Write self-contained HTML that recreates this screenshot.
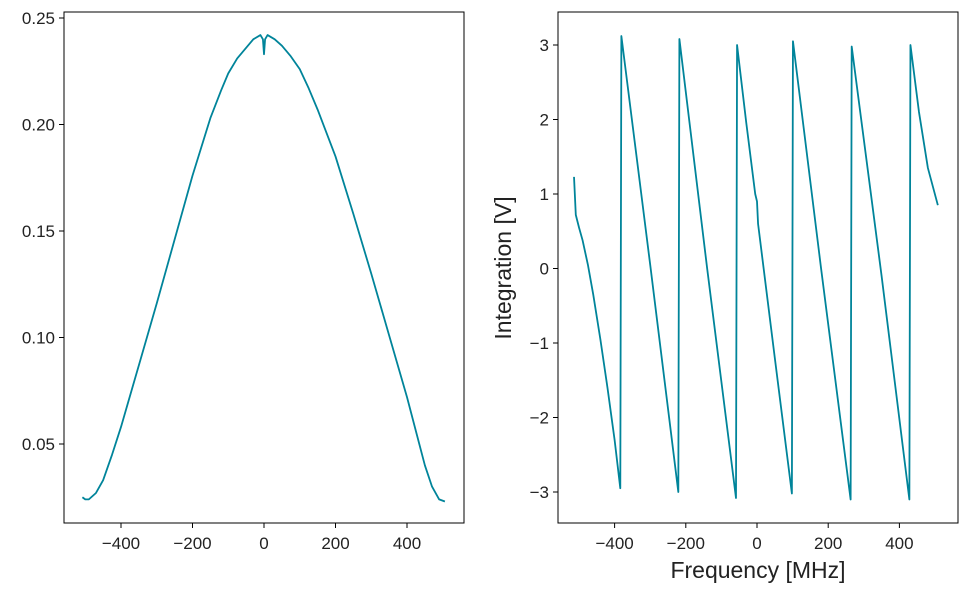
<!DOCTYPE html>
<html><head><meta charset="utf-8"><style>
html,body{margin:0;padding:0;background:#fff;}
svg text{font-family:"Liberation Sans",sans-serif;fill:#222;}
</style></head><body>
<svg id="c" width="966" height="592" xmlns="http://www.w3.org/2000/svg"></svg>
<script>
const leftX=[-508,-500,-490,-470,-450,-425,-400,-350,-300,-250,-200,-150,-120,-100,-75,-50,-30,-10,-3,0,3,10,30,50,75,100,125,150,200,250,300,350,400,425,450,470,490,506];
const leftY=[0.025,0.024,0.024,0.027,0.033,0.045,0.058,0.087,0.116,0.146,0.176,0.203,0.216,0.224,0.231,0.236,0.240,0.242,0.240,0.233,0.240,0.242,0.240,0.237,0.232,0.226,0.217,0.207,0.185,0.158,0.130,0.101,0.072,0.056,0.040,0.030,0.024,0.023];
const rightX=[-514,-509,-500,-490,-475,-460,-440,-420,-400,-384,-381,-300,-221,-218,-140,-59,-56,-30,-5,0,3,50,98,101,180,263,266,350,428,431,455,480,508];
const rightY=[1.23,0.72,0.55,0.38,0.05,-0.35,-0.95,-1.6,-2.3,-2.95,3.12,0.05,-3.0,3.08,0.0,-3.08,3.0,1.95,1.0,0.9,0.6,-1.2,-3.02,3.05,0.0,-3.1,2.98,-0.1,-3.1,3.0,2.1,1.35,0.85];
const xTicks=[-400,-200,0,200,400];
const leftYTicks=[0.05,0.10,0.15,0.20,0.25];
const rightYTicks=[-3,-2,-1,0,1,2,3];
const svg=document.getElementById('c');
const NS='http://www.w3.org/2000/svg';
function mk(t,a){const e=document.createElementNS(NS,t);for(const k in a)e.setAttribute(k,a[k]);svg.appendChild(e);return e;}
const LX=v=>264+v*0.3575, LY=v=>444-(v-0.05)*2130;
const RX=v=>757+v*0.356, RY=v=>268.5-v*74.5;
function panel(x0,y0,w,h,fx,fy,xs,ys,yt,fmt,name){
  const r=mk('rect',{x:x0,y:y0,width:w,height:h,fill:'none',stroke:'#000','stroke-width':1});
  
  
  xTicks.forEach(t=>{const x=fx(t);mk('line',{x1:x,x2:x,y1:y0+h,y2:y0+h+5,stroke:'#000'});
    const tx=mk('text',{x:x,y:y0+h+26,'text-anchor':'middle','font-size':17});tx.textContent=(t<0?'\u2212'+(-t):t);
    
    });
  yt.forEach(t=>{const y=fy(t);mk('line',{x1:x0-5,x2:x0,y1:y,y2:y,stroke:'#000'});
    const tx=mk('text',{x:x0-9,y:y+6,'text-anchor':'end','font-size':17});tx.textContent=fmt(t);
    
    });
  const p=mk('polyline',{points:xs.map((v,i)=>fx(v)+','+fy(ys[i])).join(' '),fill:'none',stroke:'#00849a','stroke-width':1.8,'stroke-linejoin':'round'});
  
  
}
panel(64,12,400,511,LX,LY,leftX,leftY,leftYTicks,t=>t.toFixed(2),'left');
panel(558,12,400,511,RX,RY,rightX,rightY,rightYTicks,t=>t<0?'\u2212'+(-t):String(t),'right');
const xl=mk('text',{x:758,y:578,'text-anchor':'middle','font-size':23});xl.textContent='Frequency [MHz]';


const yl=mk('text',{x:0,y:0,'text-anchor':'middle','font-size':23,transform:'translate(511,268) rotate(-90)'});yl.textContent='Integration [V]';


</script>
</body></html>
